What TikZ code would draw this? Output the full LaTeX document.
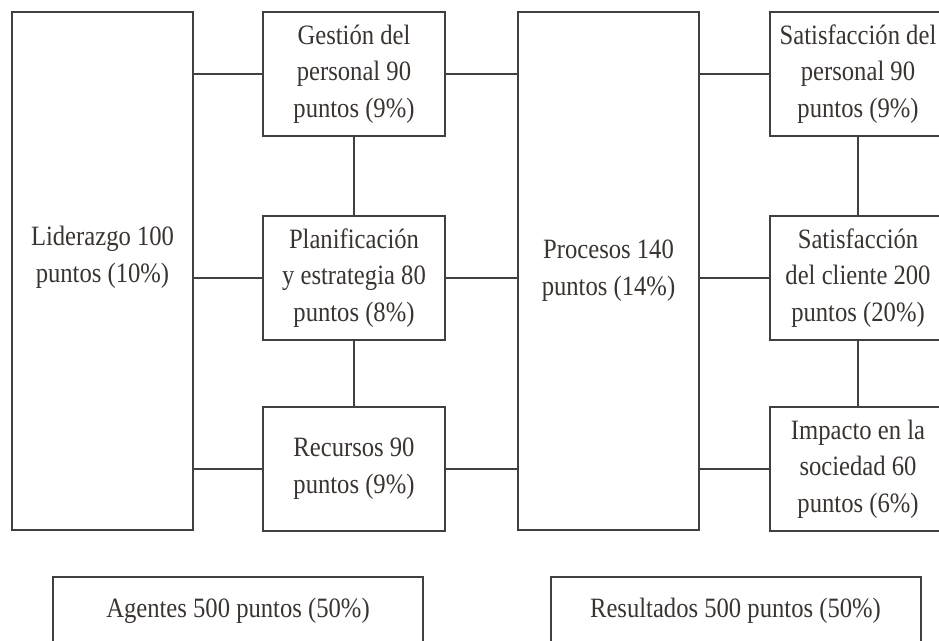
\documentclass[tikz,border=0pt]{standalone}
\usepackage{fontspec}
\setmainfont[FakeStretch=0.88]{Liberation Serif}
\definecolor{linea}{HTML}{404040}
\definecolor{texto}{HTML}{3A3431}

\begin{document}
\begin{tikzpicture}[x=1pt, y=-1pt,
    rotulo/.style={align=center, text=texto, inner sep=0pt,
      font=\fontsize{28}{36.7}\selectfont},
    caja/.style={rotulo, draw=linea, line width=2pt},
    alta/.style={caja, minimum width=181pt, minimum height=518pt},
    media/.style={caja, minimum width=182pt, minimum height=124pt},
    lado/.style={caja, minimum width=176pt, minimum height=124pt},
    base/.style={caja, minimum width=370pt, minimum height=68pt},
    conector/.style={draw=linea, line width=2pt}]
    \path[use as bounding box, clip] (0,0) rectangle (939,640);

    \node[alta, label={[rotulo, yshift=14pt]center:{Liderazgo 100\\puntos (10\%)}}] (lid) at (102.5, 271) {};
    \node[media] (gest) at (354, 74) {Gestión del\\personal 90\\puntos (9\%)};
    \node[media] (plan) at (354, 278) {Planificación\\y estrategia 80\\puntos (8\%)};
    \node[media] (rec) at (354, 469) {Recursos 90\\puntos (9\%)};
    \node[alta] (proc) at (608.5, 271) {Procesos 140\\puntos (14\%)};
    \node[lado] (satp) at (858, 74) {Satisfacción del\\personal 90\\puntos (9\%)};
    \node[lado] (satc) at (858, 278) {Satisfacción\\del cliente 200\\puntos (20\%)};
    \node[lado] (imp) at (858, 469) {Impacto en la\\sociedad 60\\puntos (6\%)};
    \node[base] (agen) at (238, 611) {Agentes 500 puntos (50\%)};
    \node[base] (res) at (735.5, 611) {Resultados 500 puntos (50\%)};

    % conectores
    \draw[conector] (gest.west -| lid.east) -- (gest.west);
    \draw[conector] (plan.west -| lid.east) -- (plan.west);
    \draw[conector] (rec.west -| lid.east) -- (rec.west);
    \draw[conector] (gest) -- (plan);
    \draw[conector] (plan) -- (rec);
    \draw[conector] (gest.east) -- (gest.east -| proc.west);
    \draw[conector] (plan.east) -- (plan.east -| proc.west);
    \draw[conector] (rec.east) -- (rec.east -| proc.west);
    \draw[conector] (satp.west -| proc.east) -- (satp.west);
    \draw[conector] (satc.west -| proc.east) -- (satc.west);
    \draw[conector] (imp.west -| proc.east) -- (imp.west);
    \draw[conector] (satp) -- (satc);
    \draw[conector] (satc) -- (imp);
  \end{tikzpicture}
\end{document}
